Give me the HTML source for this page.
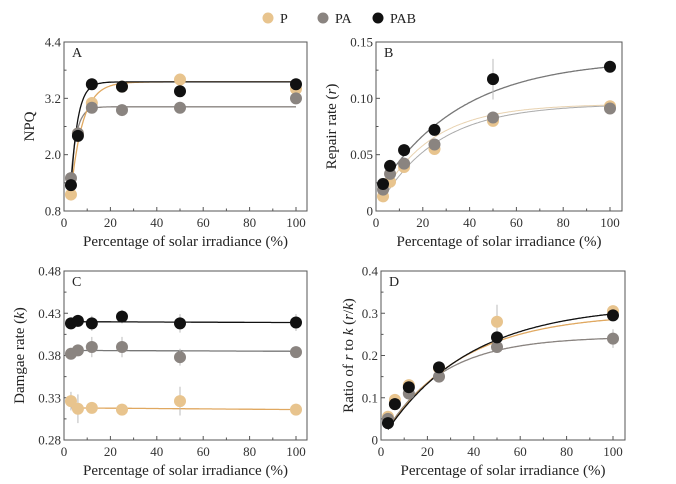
<!DOCTYPE html>
<html><head><meta charset="utf-8"><style>
body{margin:0;background:#fff}
svg{display:block;font-family:"Liberation Serif",serif}
</style></head><body>
<svg id="chart" width="676" height="484" viewBox="0 0 676 484">
<g>
<circle cx="268" cy="18" r="5.5" fill="#e8c48e"/>
<text x="280" y="23" font-size="14" fill="#222">P</text>
<circle cx="323" cy="18" r="5.5" fill="#8a8480"/>
<text x="335" y="23" font-size="14" fill="#222">PA</text>
<circle cx="378" cy="18" r="5.5" fill="#111"/>
<text x="390" y="23" font-size="14" fill="#222">PAB</text>
</g>
</svg>
<script>
const xCats = [3, 6, 12, 25, 50, 100];
const xTicks = [0, 20, 40, 60, 80, 100];
// Panel A
const aP = [1.15, 2.45, 3.1, 3.45, 3.6, 3.4];
const aPA = [1.5, 2.45, 3.0, 2.95, 3.0, 3.2];
const aPAB = [1.35, 2.4, 3.5, 3.45, 3.35, 3.5];
const aTicks = [0.8, 2.0, 3.2, 4.4];
const aTickLabels = ["0.8", "2.0", "3.2", "4.4"];
const aFitP = [3.55, 0.196, 0.9];
const aFitPA = [3.02, 0.40, 1.28];
const aFitPAB = [3.55, 0.347, 1.69];
// Panel B
const bP = [0.013, 0.026, 0.039, 0.055, 0.080, 0.093];
const bPA = [0.019, 0.033, 0.042, 0.059, 0.083, 0.091];
const bPAB = [0.024, 0.040, 0.054, 0.072, 0.117, 0.128];
const bErrPAB = [0.002, 0.003, 0.003, 0.004, 0.018, 0.002];
const bTicks = [0, 0.05, 0.10, 0.15];
const bTickLabels = ["0", "0.05", "0.10", "0.15"];
const bFitP = [0.095, 0.040, 0];
const bFitPA = [0.095, 0.045, -1];
const bFitPAB = [0.135, 0.0284, -4];
// Panel C
const cP = [0.326, 0.317, 0.318, 0.316, 0.326, 0.316];
const cPA = [0.382, 0.386, 0.390, 0.390, 0.378, 0.384];
const cPAB = [0.418, 0.421, 0.418, 0.426, 0.418, 0.419];
const cErrP = [0.011, 0.017, 0.004, 0.004, 0.017, 0.003];
const cErrPA = [0.006, 0.006, 0.012, 0.012, 0.010, 0.004];
const cErrPAB = [0.007, 0.007, 0.009, 0.008, 0.011, 0.010];
const cTicks = [0.28, 0.33, 0.38, 0.43, 0.48];
const cTickLabels = ["0.28", "0.33", "0.38", "0.43", "0.48"];
const cLineP = [0.318, 0.316];
const cLinePA = [0.386, 0.385];
const cLinePAB = [0.420, 0.419];
// Panel D
const dP = [0.055, 0.095, 0.13, 0.17, 0.28, 0.305];
const dPA = [0.05, 0.085, 0.11, 0.15, 0.22, 0.24];
const dPAB = [0.04, 0.085, 0.125, 0.172, 0.243, 0.295];
const dErrP = [0.005, 0.006, 0.006, 0.008, 0.04, 0.012];
const dErrPA = [0.005, 0.006, 0.006, 0.008, 0.01, 0.022];
const dTicks = [0, 0.1, 0.2, 0.3, 0.4];
const dTickLabels = ["0", "0.1", "0.2", "0.3", "0.4"];
const dFitP = [0.30, 0.030, 0];
const dFitPA = [0.245, 0.040, 0];
const dFitPAB = [0.32, 0.027, 0];

const NS = "http://www.w3.org/2000/svg";
const svg = document.getElementById('chart');
const COL = {P:"#e8c48e", PA:"#8a8480", PAB:"#111111"};
function mk(tag, attrs, parent){const e=document.createElementNS(NS,tag);for(const k in attrs)e.setAttribute(k,attrs[k]);(parent||svg).appendChild(e);return e;}

function panel(cfg){
  const g = mk('g',{});
  
  
  const sx = v => cfg.x0 + (v/100)*(cfg.x100-cfg.x0);
  const sy = v => cfg.yb - (v-cfg.ymin)/(cfg.ymax-cfg.ymin)*(cfg.yb-cfg.yt);
  const box = mk('rect',{x:cfg.bl,y:cfg.yt,width:cfg.br-cfg.bl,height:cfg.yb-cfg.yt,fill:'none',stroke:'#555','stroke-width':1},g);
  
  
  for(let v=0; v<=100; v+=10){
    const big = v%20===0;
    const t = mk('line',{x1:sx(v),x2:sx(v),y1:cfg.yb,y2:cfg.yb-(big?4:2.5),stroke:'#555'},g);
    
    
  }
  xTicks.forEach(v=>{
    const t = mk('text',{x:sx(v),y:cfg.yb+16,'font-size':13,'text-anchor':'middle',fill:'#333'},g);
    t.textContent = v;
    
    
  });
  cfg.ticks.forEach((v,i)=>{
    const t = mk('line',{x1:cfg.bl,x2:cfg.bl+4,y1:sy(v),y2:sy(v),stroke:'#555'},g);
    
    
    if(i<cfg.ticks.length-1){
      const m=(v+cfg.ticks[i+1])/2;
      const mt = mk('line',{x1:cfg.bl,x2:cfg.bl+2.5,y1:sy(m),y2:sy(m),stroke:'#555'},g);
      
      
    }
    const l = mk('text',{x:cfg.bl-3,y:sy(v)+4.5,'font-size':13,'text-anchor':'end',fill:'#333'},g);
    l.textContent = cfg.labels[i];
    
    
  });
  const pl = mk('text',{x:cfg.bl+8,y:cfg.yt+15,'font-size':14,fill:'#222'},g);
  pl.textContent = cfg.id;
  
  
  const xt = mk('text',{x:(cfg.bl+cfg.br)/2,y:cfg.yb+35,'font-size':15,'text-anchor':'middle',fill:'#222'},g);
  xt.textContent = 'Percentage of solar irradiance (%)';
  
  
  const yc=(cfg.yt+cfg.yb)/2, yx=cfg.bl-cfg.yoff;
  const yt = mk('text',{x:yx,y:yc,'font-size':15,'text-anchor':'middle',fill:'#222',transform:`rotate(-90 ${yx} ${yc})`},g);
  yt.innerHTML = cfg.ytitle;
  
  
  // curves
  cfg.fits.forEach(f=>{
    let d='';
    for(let x=3;x<=100;x+=0.5){
      let y;
      if(f.type==='exp'){const [a,b,c]=f.p; y=a*(1-Math.exp(-b*(x-c)));}
      else {y=f.p[0]+(f.p[1]-f.p[0])*(x-3)/97;}
      d+=(d?'L':'M')+sx(x).toFixed(1)+','+sy(y).toFixed(1);
    }
    const p = mk('path',{d:d,fill:'none',stroke:f.color,'stroke-width':f.w||1.3},g);
    
    
  });
  // points
  cfg.series.forEach(s=>{
    s.vals.forEach((v,i)=>{
      if(s.err){
        const e=mk('line',{x1:sx(xCats[i]),x2:sx(xCats[i]),y1:sy(v-s.err[i]),y2:sy(v+s.err[i]),stroke:'#bbb','stroke-width':1},g);
        
        
      }
    });
  });
  cfg.series.forEach(s=>{
    s.vals.forEach((v,i)=>{
      const c = mk('circle',{cx:sx(xCats[i]),cy:sy(v),r:6,fill:COL[s.name]},g);
      
      
    });
  });
}

panel({id:'A',bl:64,br:307,x0:64,x100:296,yt:42,yb:211,ymin:0.8,ymax:4.4,ticks:aTicks,labels:aTickLabels,yoff:30,ytitle:'NPQ',
  fits:[{type:'exp',p:aFitPA,color:'#8a8480',name:'pa'},{type:'exp',p:aFitP,color:'#e0a860',name:'p'},{type:'exp',p:aFitPAB,color:'#111',name:'pab'}],
  series:[{name:'P',vals:aP},{name:'PA',vals:aPA},{name:'PAB',vals:aPAB}]});
panel({id:'B',bl:376,br:622,x0:376,x100:610,yt:42,yb:211,ymin:0,ymax:0.15,ticks:bTicks,labels:bTickLabels,yoff:40,ytitle:'Repair rate (<tspan font-style="italic">r</tspan>)',
  fits:[{type:'exp',p:bFitP,color:'#aaa',name:'p',w:1},{type:'exp',p:bFitPA,color:'#e8d2b0',name:'pa',w:1},{type:'exp',p:bFitPAB,color:'#777',name:'pab'}],
  series:[{name:'P',vals:bP},{name:'PA',vals:bPA},{name:'PAB',vals:bPAB,err:bErrPAB}]});
panel({id:'C',bl:64,br:307,x0:64,x100:296,yt:271,yb:440,ymin:0.28,ymax:0.48,ticks:cTicks,labels:cTickLabels,yoff:40,ytitle:'Damgae rate (<tspan font-style="italic">k</tspan>)',
  fits:[{type:'lin',p:cLineP,color:'#e0a860',name:'p'},{type:'lin',p:cLinePA,color:'#777',name:'pa'},{type:'lin',p:cLinePAB,color:'#111',name:'pab'}],
  series:[{name:'P',vals:cP,err:cErrP},{name:'PA',vals:cPA,err:cErrPA},{name:'PAB',vals:cPAB,err:cErrPAB}]});
panel({id:'D',bl:381,br:625,x0:381,x100:613,yt:271,yb:440,ymin:0,ymax:0.4,ticks:dTicks,labels:dTickLabels,yoff:28,ytitle:'Ratio of <tspan font-style="italic">r</tspan> to <tspan font-style="italic">k</tspan> (<tspan font-style="italic">r</tspan>/<tspan font-style="italic">k</tspan>)',
  fits:[{type:'exp',p:dFitPA,color:'#8a8480',name:'pa'},{type:'exp',p:dFitP,color:'#e0a860',name:'p'},{type:'exp',p:dFitPAB,color:'#111',name:'pab'}],
  series:[{name:'P',vals:dP,err:dErrP},{name:'PA',vals:dPA,err:dErrPA},{name:'PAB',vals:dPAB}]});
</script>
</body></html>
